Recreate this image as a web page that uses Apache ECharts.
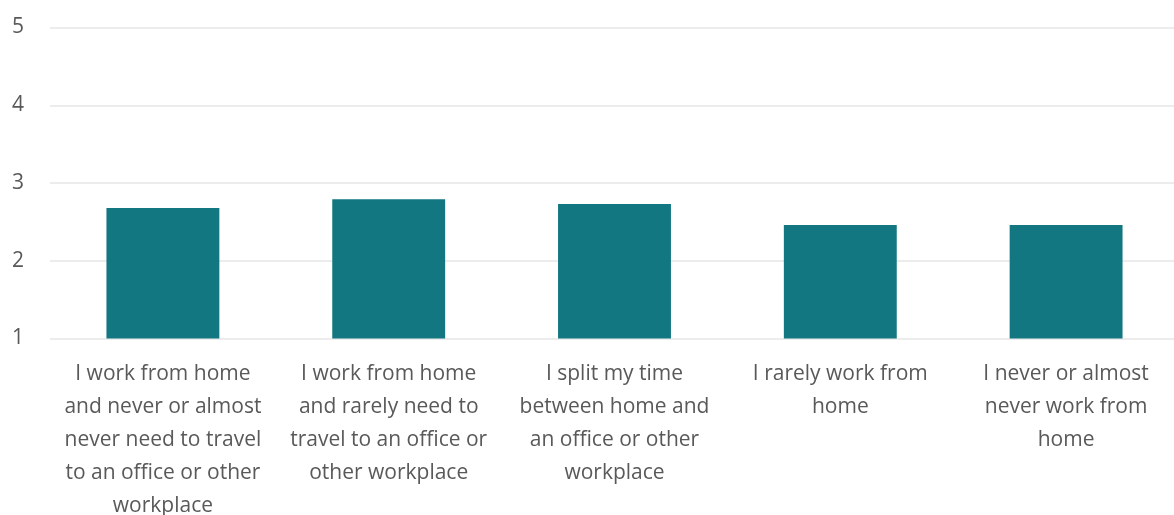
<!DOCTYPE html>
<html>
<head>
<meta charset="utf-8">
<script src="https://cdn.jsdelivr.net/npm/echarts@6/dist/echarts.min.js"></script>
<style>
html,body{margin:0;padding:0;background:#fff;}
#c{width:1174px;height:515px;}
</style>
</head>
<body>
<div id="c"></div>
<script>
const categories = [
  "I work from home\nand never or almost\nnever need to travel\nto an office or other\nworkplace",
  "I work from home\nand rarely need to\ntravel to an office or\nother workplace",
  "I split my time\nbetween home and\nan office or other\nworkplace",
  "I rarely work from\nhome",
  "I never or almost\nnever work from\nhome"
];
const values = [2.68, 2.79, 2.73, 2.46, 2.46];
const yTicks = [1, 2, 3, 4, 5];

const chart = echarts.init(document.getElementById('c'), null, {renderer: 'canvas'});
chart.setOption({
  animation: false,
  textStyle: {fontFamily: 'Open Sans'},
  grid: {left: 50, right: -5, top: 27.5, bottom: 176.5, containLabel: false, outerBoundsMode: 'none'},
  xAxis: {
    type: 'category',
    data: categories,
    axisLine: {show: false},
    axisTick: {show: false},
    axisLabel: {
      interval: 0,
      color: '#595959',
      fontSize: 21,
      lineHeight: 33,
      margin: 19,
      fontFamily: 'Open Sans',
      hideOverlap: false
    }
  },
  yAxis: {
    type: 'value',
    min: yTicks[0],
    max: yTicks[yTicks.length - 1],
    interval: 1,
    axisLine: {show: false},
    axisTick: {show: false},
    axisLabel: {color: '#595959', fontSize: 21, margin: 26, fontFamily: 'Open Sans'},
    splitLine: {lineStyle: {color: '#e6e6e6', width: 1.5}}
  },
  series: [{
    type: 'bar',
    data: values,
    barWidth: '50%',
    itemStyle: {color: '#127781'}
  }]
});
</script>
</body>
</html>
